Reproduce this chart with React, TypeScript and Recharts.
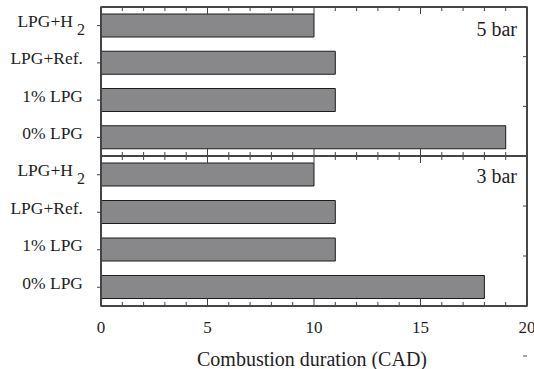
import { BarChart, Bar, XAxis, YAxis, ReferenceArea, ReferenceLine, CartesianGrid } from "recharts";

const categories = ["LPG+H2", "LPG+Ref.", "1% LPG", "0% LPG"];
const duration5bar = [10, 11, 11, 19];
const duration3bar = [10, 11, 11, 18];
const panelLabels = ["5 bar", "3 bar"];
const xTicks = [0, 1, 2, 3, 4, 5, 6, 7, 8, 9, 10, 11, 12, 13, 14, 15, 16, 17, 18, 19, 20];
const rightTicks = [1, 2, 3, 4, 5, 6, 7, 8, 9];
const xTitle = "Combustion duration (CAD)";

const FONT = "Liberation Serif, serif";
const INK = "#1e1e1e";
const AXIS = "#444";
const BAR_FILL = "#88888b";
const BAR_STROKE = "#1c1c1c";

const topData = categories.map((name, i) => ({ name, value: duration5bar[i] }));
const bottomData = categories.map((name, i) => ({ name, value: duration3bar[i] }));

// ticks drawn by hand so they can point into the plot
function xTick(dir: number, withLabel: boolean) {
  return (props: any) => {
    const { x, y, payload } = props;
    const v = payload.value;
    const major = v % 5 === 0;
    return (
      <g>
        <line x1={x} x2={x} y1={y} y2={y + dir * (major ? 7 : 4)} stroke={AXIS} strokeWidth={1} />
        {withLabel && major && (
          <text x={x} y={y + 27} textAnchor="middle" fontSize={17} fontFamily={FONT} fill={INK}>
            {v}
          </text>
        )}
      </g>
    );
  };
}

function rightTick(props: any) {
  const { x, y } = props;
  return <line x1={x} x2={x - 4} y1={y} y2={y} stroke={AXIS} strokeWidth={1} />;
}

function categoryTick(props: any) {
  const { x, y, payload } = props;
  const name = payload.value;
  return (
    <g>
      <line x1={x - 4} x2={x} y1={y} y2={y} stroke={AXIS} strokeWidth={1} />
      {name === "LPG+H2" ? (
        <>
          <text x={x - 28} y={y + 1.5} textAnchor="end" fontSize={17.5} fontFamily={FONT} fill={INK}>
            LPG+H
          </text>
          <text x={x - 24} y={y + 9} textAnchor="start" fontSize={16} fontFamily={FONT} fill={INK}>
            2
          </text>
        </>
      ) : (
        <text x={x - 18} y={y + 1.5} textAnchor="end" fontSize={17.5} fontFamily={FONT} fill={INK}>
          {name}
        </text>
      )}
    </g>
  );
}

// frame edges taken from the chart's own plot offset
const frameX = ({ offset }: any) => [offset.left, offset.left + offset.width];
const frameY = ({ offset }: any) => [offset.top, offset.top + offset.height];

function Panel({ data, height, margin, xAxisHeight, labels }: any) {
  return (
    <BarChart width={534} height={height} data={data} layout="vertical" margin={margin} style={{ overflow: "visible" }}>
      <CartesianGrid
        stroke={AXIS}
        strokeWidth={1.5}
        fill="none"
        verticalCoordinatesGenerator={frameX}
        horizontalCoordinatesGenerator={frameY}
      />
      <XAxis
        type="number"
        domain={[0, 20]}
        ticks={xTicks}
        interval={0}
        height={xAxisHeight}
        stroke={AXIS}
        tickSize={0}
        tickMargin={0}
        tickLine={false}
        axisLine={{ stroke: AXIS, strokeWidth: 1.5 }}
        tick={xTick(-1, labels)}
      />
      <XAxis
        xAxisId="top"
        orientation="top"
        type="number"
        domain={[0, 20]}
        allowDataOverflow
        ticks={xTicks}
        interval={0}
        height={1}
        stroke={AXIS}
        tickSize={0}
        tickMargin={0}
        tickLine={false}
        axisLine={{ stroke: AXIS, strokeWidth: 1.5 }}
        tick={xTick(1, false)}
      />
      <YAxis
        type="category"
        dataKey="name"
        width={101}
        stroke={AXIS}
        tickSize={0}
        tickMargin={0}
        tickLine={false}
        interval={0}
        axisLine={{ stroke: AXIS, strokeWidth: 1.5 }}
        tick={categoryTick}
      />
      <YAxis
        yAxisId="r"
        orientation="right"
        type="number"
        domain={[0, 10]}
        allowDataOverflow
        ticks={rightTicks}
        interval={0}
        width={1}
        stroke={AXIS}
        tickSize={0}
        tickMargin={0}
        tickLine={false}
        axisLine={{ stroke: AXIS, strokeWidth: 1.5 }}
        tick={rightTick}
      />
      <Bar
        dataKey="value"
        fill={BAR_FILL}
        stroke={BAR_STROKE}
        strokeWidth={1}
        barSize={23}
        isAnimationActive={false}
      />
      <ReferenceLine x={0} stroke={AXIS} strokeWidth={1.5} ifOverflow="visible" />
      <ReferenceArea x1={0} x2={20} fill="none" fillOpacity={0} stroke={AXIS} strokeWidth={1.5} ifOverflow="visible" />
    </BarChart>
  );
}

export default function App() {
  return (
    <div style={{ position: "absolute", left: 0, top: 0, width: 534, height: 369, background: "#fff", overflow: "hidden" }}>
      <Panel
        data={topData}
        height={157}
        margin={{ top: 6, right: 6, bottom: 0, left: 0 }}
        xAxisHeight={1}
        labels={false}
      />
      <div style={{ marginTop: -2 }}>
        <Panel
          data={bottomData}
          height={214}
          margin={{ top: 0, right: 6, bottom: 0, left: 0 }}
          xAxisHeight={63}
          labels={true}
        />
      </div>
      <svg width={534} height={369} style={{ position: "absolute", left: 0, top: 0, pointerEvents: "none" }}>
        <text x={517} y={36} textAnchor="end" fontSize={20} fontFamily={FONT} fill={INK}>
          {panelLabels[0]}
        </text>
        <text x={517} y={183} textAnchor="end" fontSize={20} fontFamily={FONT} fill={INK}>
          {panelLabels[1]}
        </text>
        <text x={312} y={366} textAnchor="middle" fontSize={20} fontFamily={FONT} fill={INK}>
          {xTitle}
        </text>
      </svg>
    </div>
  );
}
